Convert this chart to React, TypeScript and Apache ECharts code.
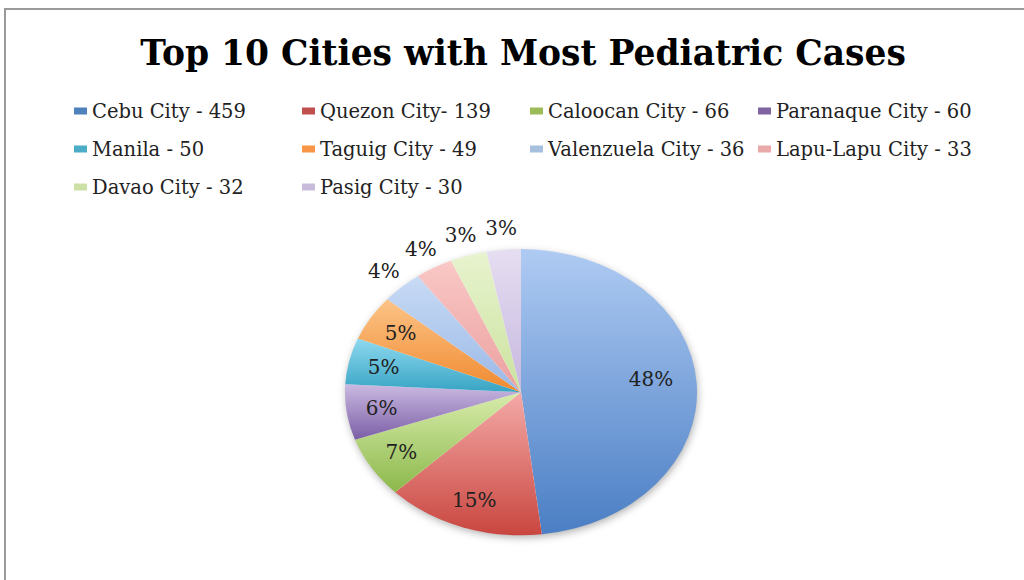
import React, { useEffect, useRef } from "react";
import * as echarts from "echarts";

const cities = [
  "Cebu City",
  "Quezon City",
  "Caloocan City",
  "Paranaque City",
  "Manila",
  "Taguig City",
  "Valenzuela City",
  "Lapu-Lapu City",
  "Davao City",
  "Pasig City",
];
const cases = [459, 139, 66, 60, 50, 49, 36, 33, 32, 30];
const legendLabels = [
  "Cebu City - 459",
  "Quezon City- 139",
  "Caloocan City - 66",
  "Paranaque City - 60",
  "Manila - 50",
  "Taguig City - 49",
  "Valenzuela City - 36",
  "Lapu-Lapu City - 33",
  "Davao City - 32",
  "Pasig City - 30",
];
const percentLabels = ["48%", "15%", "7%", "6%", "5%", "5%", "4%", "4%", "3%", "3%"];
const titleText = "Top 10 Cities with Most Pediatric Cases";

// [light (top), dark (bottom)] gradient per slice
const sliceColors = [
  ["#afcbf3", "#4a7ec4"],
  ["#f4aaa8", "#c9463f"],
  ["#d8ecab", "#8cb84b"],
  ["#cbbae2", "#7b5ea6"],
  ["#8ed9ef", "#38a4c4"],
  ["#fcc487", "#f0892f"],
  ["#c8dbf5", "#9ab8e6"],
  ["#f9c8c6", "#eba09f"],
  ["#e8f3cf", "#cbe39f"],
  ["#e6def1", "#c6b7df"],
];
const legendColors = ["#4f81bd", "#c0504d", "#9bbb59", "#8064a2", "#4bacc6", "#f79646", "#a7c0de", "#e8a9a8", "#cde0a5", "#c9bcdb"];

const CX = 521;
const CY = 392;
const RX = 176;
const RY = 143;
const FONT = "'DejaVu Serif', serif";

const total = cases.reduce((a, b) => a + b, 0);
const startFrac: number[] = [];
{
  let acc = 0;
  for (const v of cases) {
    startFrac.push(acc / total);
    acc += v;
  }
}

const legendColumns = [
  { left: 74, idx: [0, 4, 8] },
  { left: 302, idx: [1, 5, 9] },
  { left: 530, idx: [2, 6] },
  { left: 758, idx: [3, 7] },
];

export default function App() {
  const ref = useRef<HTMLDivElement>(null);
  useEffect(() => {
    if (!ref.current) return;
    const chart = echarts.init(ref.current, undefined, { renderer: "svg" });
    const series = cities.map((city, i) => ({
      type: "custom",
      name: legendLabels[i],
      coordinateSystem: "none",
      itemStyle: { color: legendColors[i] },
      data: [[cases[i]]],
      renderItem: (params: any, api: any) => {
        const v = api.value(0) as number;
        const s = startFrac[i];
        const e = s + v / total;
        const a0 = -Math.PI / 2 + 2 * Math.PI * s;
        const a1 = -Math.PI / 2 + 2 * Math.PI * e;
        const mid = (a0 + a1) / 2;
        const share = v / total;
        const f = share < 0.04 ? 1.15 : share > 0.4 ? 0.74 : 0.8;
        const lx = CX + RX * f * Math.cos(mid);
        const ly = CY + RY * f * Math.sin(mid) - (share > 0.4 ? 7 : 0);
        return {
          type: "group",
          children: [
            {
              type: "sector",
              shape: { cx: CX, cy: CY, r: RX, r0: 0, startAngle: a0, endAngle: a1, clockwise: true },
              scaleY: RY / RX,
              originX: CX,
              originY: CY,
              style: {
                fill: new echarts.graphic.LinearGradient(0, 0, 0, 1, [
                  { offset: 0, color: sliceColors[i][0] },
                  { offset: 1, color: sliceColors[i][1] },
                ]),
              },
            },
            {
              type: "text",
              x: lx,
              y: ly,
              style: {
                text: percentLabels[i],
                fill: "#222",
                fontSize: 20,
                fontFamily: FONT,
                align: "center",
                verticalAlign: "middle",
              },
            },
          ],
        };
      },
    }));
    chart.setOption({
      animation: false,
      backgroundColor: "#ffffff",
      title: {
        text: titleText,
        left: 518,
        textAlign: "center",
        top: 30,
        textStyle: { fontFamily: FONT, fontWeight: "bold", fontSize: 34.5, color: "#000" },
      },
      legend: legendColumns.map((c) => ({
        orient: "vertical",
        left: c.left,
        top: 100,
        padding: 0,
        itemGap: 16,
        itemWidth: 13,
        itemHeight: 7,
        icon: "rect",
        selectedMode: false,
        data: c.idx.map((k) => legendLabels[k]),
        textStyle: { fontFamily: FONT, fontSize: 19.5, color: "#222", lineHeight: 22, padding: [0, 0, 0, 0] },
      })),
      graphic: [
        {
          type: "rect",
          z: -10,
          shape: { x: 5, y: 9, width: 1200, height: 800 },
          style: { fill: "#fff", stroke: "#9a9a9a", lineWidth: 2 },
        },
        {
          type: "ellipse",
          z: -5,
          shape: { cx: CX, cy: CY, rx: RX - 1, ry: RY - 1 },
          style: { fill: "#fff", shadowBlur: 8, shadowColor: "rgba(0,0,0,0.35)", shadowOffsetY: 3, shadowOffsetX: 1 },
        },
      ],
      series,
    });
    return () => chart.dispose();
  }, []);
  return <div ref={ref} style={{ position: "fixed", left: 0, top: 0, width: 1024, height: 580 }} />;
}
